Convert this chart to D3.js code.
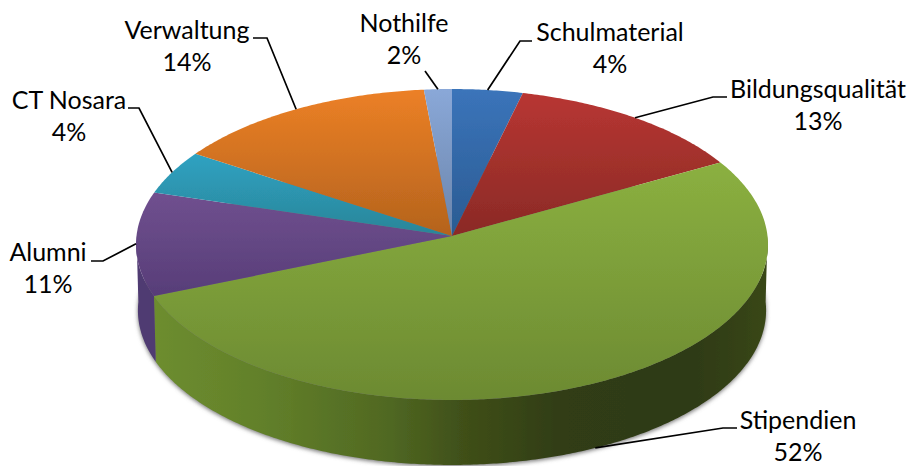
<!DOCTYPE html>
<html>
<head>
<meta charset="utf-8">
<script src="https://cdn.jsdelivr.net/npm/d3@7/dist/d3.min.js"></script>
<style>
  html, body { margin: 0; background: #fff; }
  svg { display: block; }
  text { font-family: Lato, "Open Sans", sans-serif; font-size: 25px; fill: #000; text-anchor: middle; }
</style>
</head>
<body>
<div id="graf"></div>
<script>
// Datos (clockwise from 12 o'clock)
const categorias = ['Schulmaterial', 'Bildungsqualität', 'Stipendien', 'Alumni', 'CT Nosara', 'Verwaltung', 'Nothilfe']
const valores    = [3.8, 13.1, 51.9, 10.8, 4.6, 14.3, 1.5]
const etiquetas  = ['4%', '13%', '52%', '11%', '4%', '14%', '2%']

const colorArriba = ['#3b74ba', '#b83632', '#8bb040', '#70508f', '#2fa2c2', '#ec8026', '#8aa8d8']
const colorAbajo  = ['#2a5b92', '#8a2a26', '#6c8a32', '#573d78', '#2a8598', '#b4631d', '#6a84aa']

const ancho_total = 909
const alto_total  = 466

// Geometria del disco en perspectiva
const cx = 452, cy = 236
const a = 315.5, b = 155, k = 0.0546
const grosor = 66
const escalaBase = 0.994

function proy(ang, base) {
  const x = Math.sin(ang), y = -Math.cos(ang)
  const d = 1 - k * y
  const e = base ? escalaBase : 1
  return [cx + e * a * x / d, cy + e * b * y / d + (base ? grosor : 0)]
}

// Posicion de cada etiqueta y codo de su linea guia
const layout = [
  { x: 610, y: 41,  codo: [[520, 41], [532, 41]] },
  { x: 818, y: 98,  codo: [[713, 97], [727, 97]] },
  { x: 798, y: 429, codo: [[723, 428], [737, 428]], base: true },
  { x: 48,  y: 261, codo: [[103, 261], [91, 261]] },
  { x: 69,  y: 109, codo: [[139, 108], [128, 108]] },
  { x: 187, y: 39,  codo: [[267, 38], [253, 38]] },
  { x: 404, y: 32,  codo: [[425, 71]] }
]

const svg = d3.select('#graf').append('svg')
  .attr('width', ancho_total)
  .attr('height', alto_total)

const defs = svg.append('defs')

defs.append('filter').attr('id', 'sombra')
  .attr('x', '-5%').attr('y', '-5%').attr('width', '110%').attr('height', '110%')
  .append('feGaussianBlur').attr('stdDeviation', 2.2)

defs.append('filter').attr('id', 'suave')
  .attr('x', '-2%').attr('y', '-2%').attr('width', '104%').attr('height', '104%')
  .append('feGaussianBlur').attr('stdDeviation', 0.4)

categorias.forEach((c, i) => {
  const g = defs.append('linearGradient').attr('id', 'top' + i)
    .attr('x1', 0).attr('y1', 0).attr('x2', 0).attr('y2', 1)
  g.append('stop').attr('offset', 0).attr('stop-color', colorArriba[i])
  g.append('stop').attr('offset', 1).attr('stop-color', colorAbajo[i])
})

// Pared de Stipendien: se oscurece hacia la derecha
const paredVerde = defs.append('linearGradient').attr('id', 'paredVerde')
  .attr('gradientUnits', 'userSpaceOnUse')
  .attr('x1', cx - a).attr('x2', cx + a).attr('y1', 0).attr('y2', 0)
const paradas = [[0, '#6f8f30'], [0.2, '#62802a'], [0.4, '#506822'], [0.52, '#3f4f19'], [0.68, '#303c14'], [0.88, '#2e3a12'], [1, '#394716']]
paradas.forEach(p => paredVerde.append('stop').attr('offset', p[0]).attr('stop-color', p[1]))

const pie = d3.pie().sort(null).value(d => d)
const arcos = pie(valores)
const linea = d3.line()

function rim(a0, a1, base) {
  const n = Math.max(2, Math.ceil((a1 - a0) / 0.01))
  return d3.range(n + 1).map(i => proy(a0 + (a1 - a0) * i / n, base))
}

// Sombra bajo el disco
const todo = rim(0, 2 * Math.PI, true)
svg.append('path')
  .attr('d', linea(todo) + 'Z')
  .attr('transform', 'translate(0,1.5)')
  .attr('fill', '#777')
  .attr('filter', 'url(#sombra)')

const disco = svg.append('g').attr('filter', 'url(#suave)')

// Paredes: solo la mitad delantera
const frente0 = Math.PI / 2, frente1 = 3 * Math.PI / 2
arcos.forEach((d, i) => {
  const a0 = Math.max(d.startAngle, frente0)
  const a1 = Math.min(d.endAngle, frente1)
  if (a1 <= a0) return
  const puntos = rim(a0, a1, false).concat(rim(a0, a1, true).reverse())
  disco.append('path')
    .attr('d', linea(puntos) + 'Z')
    .attr('fill', i === 2 ? 'url(#paredVerde)' : '#4f3a72')
})

// Cara superior
disco.selectAll('path.cara')
  .data(arcos)
  .join('path')
  .attr('class', 'cara')
  .attr('d', d => linea([[cx, cy]].concat(rim(d.startAngle, d.endAngle, false))) + 'Z')
  .attr('fill', (d, i) => `url(#top${i})`)

// Lineas guia: salen del borde en el angulo medio de cada porcion
arcos.forEach((d, i) => {
  const l = layout[i]
  const inicio = proy((d.startAngle + d.endAngle) / 2, l.base)
  svg.append('path')
    .attr('d', linea([inicio].concat(l.codo)))
    .attr('fill', 'none')
    .attr('stroke', '#000')
    .attr('stroke-width', 1.7)
})

// Etiquetas
categorias.forEach((c, i) => {
  const l = layout[i]
  svg.append('text').attr('x', l.x).attr('y', l.y).text(c)
  svg.append('text').attr('x', l.x).attr('y', l.y + 32).text(etiquetas[i])
})
</script>
</body>
</html>
